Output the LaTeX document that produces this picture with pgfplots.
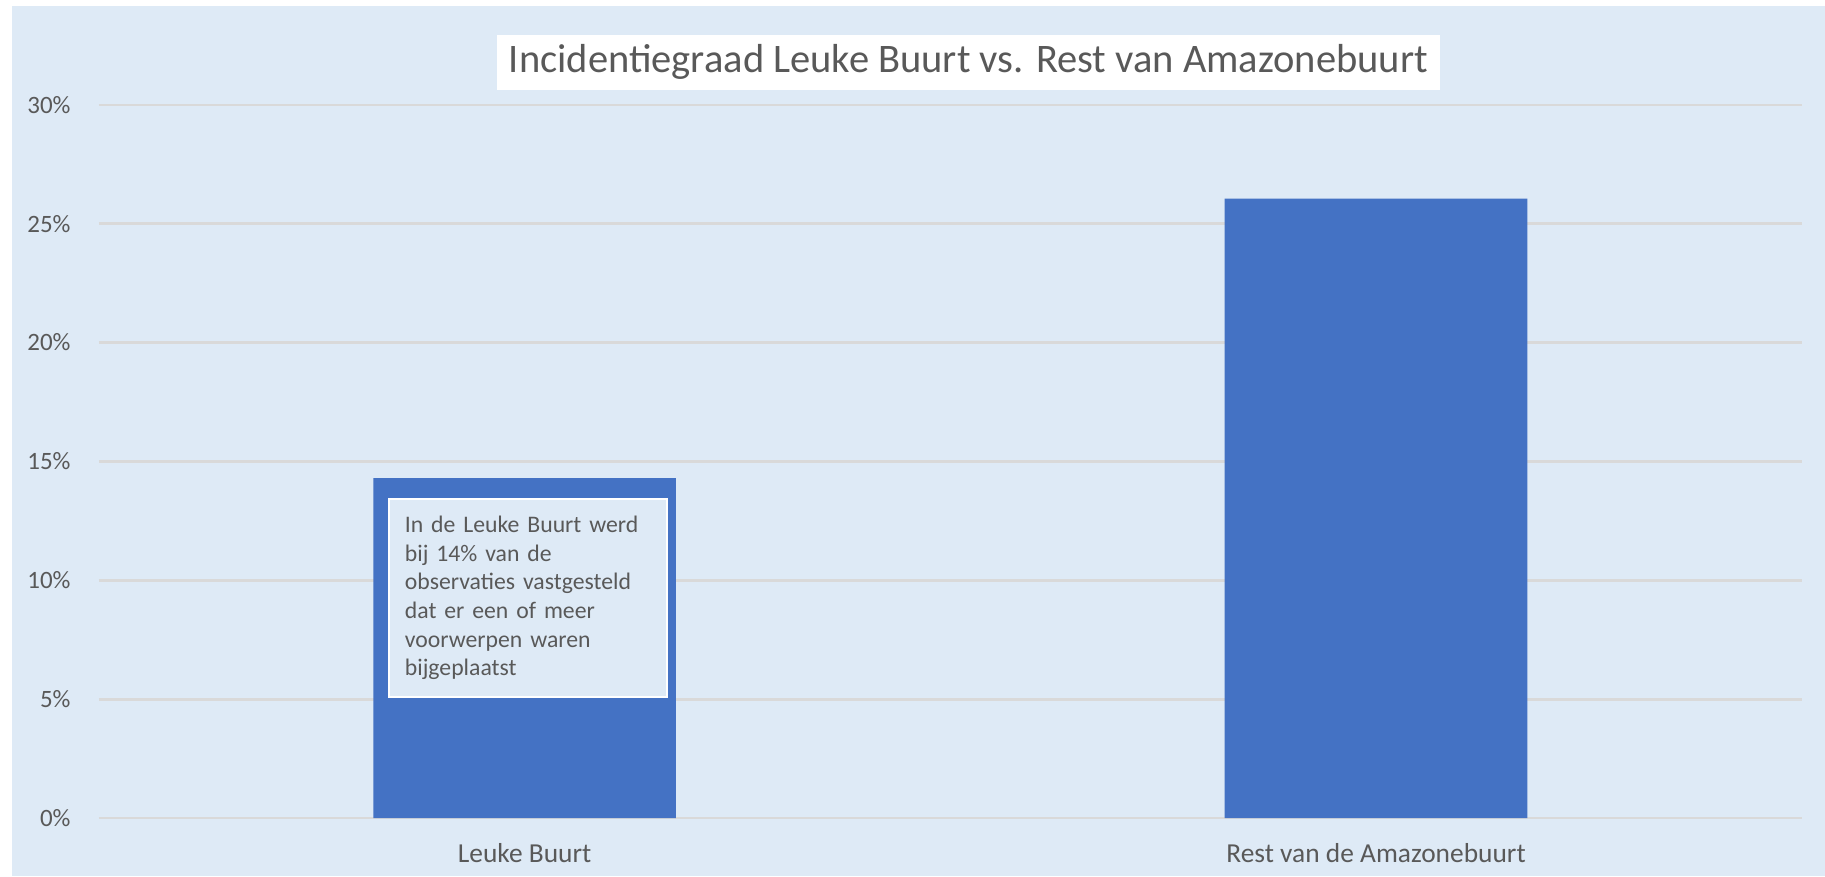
\documentclass[border=0pt]{standalone}
\usepackage{fontspec}
\setmainfont{Carlito}
\usepackage{pgfplots}
\pgfplotsset{compat=1.18}

\definecolor{bgblue}{HTML}{DEEAF6}
\definecolor{barblue}{HTML}{4472C4}
\definecolor{gridgray}{HTML}{D9D9D9}
\definecolor{txtgray}{HTML}{595959}

\begin{document}
\begin{tikzpicture}
% page and light blue chart area
\fill[white] (-8.5mm,-5mm) rectangle (148.3mm,70.3mm);
\fill[bgblue] (-7.5mm,-5mm) rectangle (148.3mm,69.8mm);
\begin{axis}[
  scale only axis,
  width=146.3mm, height=61.3mm,
  at={(0,0)}, anchor=south west,
  ybar, bar width=26mm, bar shift=0pt,
  xmin=-0.5, xmax=1.5,
  ymin=0, ymax=30,
  xtick={0,1},
  xticklabels={Leuke Buurt, Rest van de Amazonebuurt},
  ytick={0,5,...,30},
  yticklabel={\pgfmathprintnumber{\tick}\%},
  /pgf/number format/assume math mode=true,
  ymajorgrids,
  grid style={gridgray, line width=0.6pt},
  axis line style={draw=none},
  major tick length=0pt,
  ticklabel style={text=txtgray},
  yticklabel style={font=\fontsize{6.1}{7}\selectfont, anchor=east, xshift=-1.2mm},
  xticklabel style={font=\fontsize{6.7}{8}\selectfont, anchor=center, yshift=-3.0mm},
  every axis title shift=0pt,
  title={Incidentiegraad Leuke Buurt vs. Rest van Amazonebuurt},
  title style={at={(rel axis cs:0.5106,1.0595)}, anchor=center,
    fill=white, minimum width=81mm, minimum height=4.7mm, inner sep=0pt,
    font=\fontsize{9.9}{12}\selectfont, text=txtgray},
]
\addplot[fill=barblue, draw=none] coordinates {(0,14.3) (1,26.05)};
\end{axis}
\node[anchor=north west, fill=bgblue, draw=white, line width=0.5pt,
  minimum width=23.9mm, minimum height=17mm, text width=21.1mm,
  inner sep=1.4mm, align=left, text=txtgray,
  font=\fontsize{5.8}{7}\selectfont] at (24.8mm,27.5mm)
  {In de Leuke Buurt werd\\bij 14\% van de\\observaties vastgesteld\\dat er een of meer\\voorwerpen waren\\bijgeplaatst};
\end{tikzpicture}
\end{document}
